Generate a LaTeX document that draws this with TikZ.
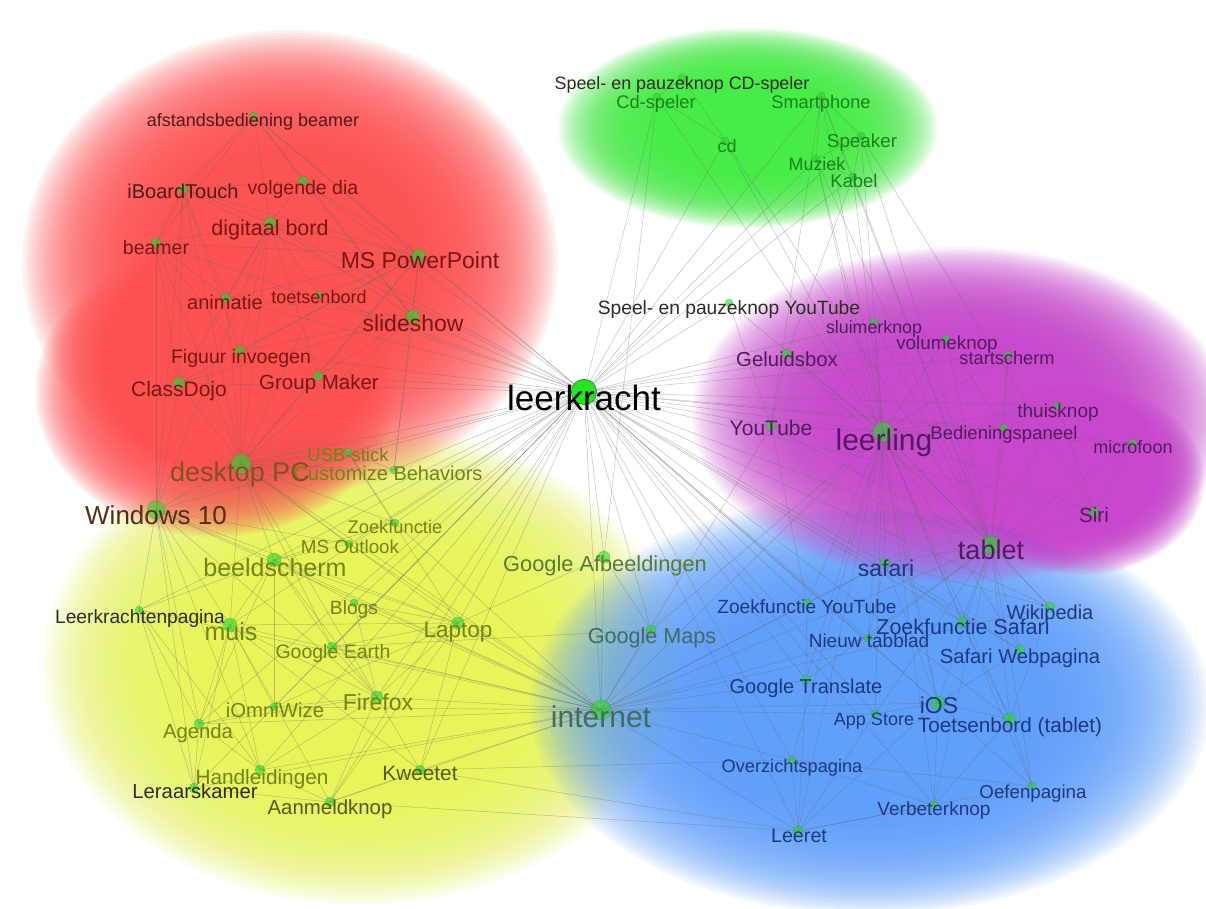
\documentclass[tikz,border=0pt]{standalone}
\usepackage{fontspec}
\setmainfont{Liberation Sans}
\pgfdeclarelayer{bg}
\pgfdeclarelayer{edges}
\pgfsetlayers{bg,edges,main}
\definecolor{bgred}{RGB}{252,82,82}
\definecolor{bgyel}{RGB}{232,245,88}
\definecolor{bggrn}{RGB}{70,236,70}
\definecolor{bgpur}{RGB}{200,72,205}
\definecolor{bgblu}{RGB}{95,160,250}
\definecolor{tred}{RGB}{125,20,20}
\definecolor{tdred}{RGB}{80,25,25}
\definecolor{tgrn}{RGB}{25,130,25}
\definecolor{tpur}{RGB}{85,25,100}
\definecolor{tblu}{RGB}{30,55,130}
\definecolor{tyel}{RGB}{115,132,22}
\definecolor{tdyel}{RGB}{85,90,25}
\definecolor{tdark}{RGB}{45,45,35}
\definecolor{tbrown}{RGB}{85,45,20}
\definecolor{tbrown2}{RGB}{135,80,30}
\definecolor{tteal}{RGB}{65,108,100}
\definecolor{tgolive}{RGB}{85,125,50}
\definecolor{dotg}{RGB}{45,215,45}
\tikzset{
  dot/.style={circle, inner sep=0pt, fill=dotg, fill opacity=0.6, draw=dotg!60!black, draw opacity=0.35, line width=0.3pt},
  lab/.style={inner sep=0pt, anchor=base},
  edge/.style={draw=black!60, line width=0.35pt, draw opacity=0.4},
  haze/.style={fill opacity=0.07},
}
% soft blob: colour, cx, cy, rx, ry
\newcommand\blob[5]{%
  \foreach \k in {0,...,41}{%
    \fill[#1, haze] (#2,#3) ellipse [x radius={#4*(1-0.0125*\k)}, y radius={#5*(1-0.0125*\k)}];}}
% name, dotx, doty, radius(px), labx, laby, size(px), colour, text
\newcommand\nd[9]{%
  \node[dot, minimum size={#4*1.5pt}] (#1) at (#2,#3) {};
  \node[lab, text=#8, font=\fontsize{\fpeval{0.75*#7}}{\fpeval{0.9*#7}}\selectfont] (#1-l) at (#5,{#6+0.36*#7}) {#9};}
\begin{document}
\begin{tikzpicture}[x=0.75pt,y=-0.75pt]
\useasboundingbox (0,0) rectangle (1206,908);
\begin{pgfonlayer}{bg}
  \fill[white] (0,0) rectangle (1206,908);
  \blob{bgyel}{360}{665}{318}{240}
  \blob{bgred}{290}{262}{268}{232}
  \blob{bgred}{215}{392}{180}{145}
  \blob{bggrn}{748}{128}{190}{100}
  \blob{bgblu}{870}{705}{340}{210}
  \blob{bgpur}{960}{415}{268}{168}
  \blob{bgpur}{1080}{480}{125}{95}
\end{pgfonlayer}
% green cluster
\nd{spcd}{682}{78}{4}{682}{83}{17.9}{tdark}{Speel- en pauzeknop CD-speler}
\nd{cdspeler}{657}{97}{4}{656}{102}{18.3}{tgrn}{Cd-speler}
\nd{smartphone}{821}{96}{4}{821}{102}{18.2}{tgrn}{Smartphone}
\nd{cd}{725}{141}{4}{727}{146}{18}{tgrn}{cd}
\nd{speaker}{861}{136}{4}{862}{141}{18.8}{tgrn}{Speaker}
\nd{muziek}{816}{159}{4}{817}{164}{17.9}{tgrn}{Muziek}
\nd{kabel}{853}{177}{4}{854}{181}{18.4}{tgrn}{Kabel}
% red cluster
\nd{afst}{254}{116}{4}{253}{120}{18}{tdred}{afstandsbediening beamer}
\nd{iboard}{183}{189}{5}{183}{191}{20}{tdred}{iBoardTouch}
\nd{volg}{303}{181}{5}{303}{187}{19.5}{tred}{volgende dia}
\nd{digbord}{270}{223}{6}{270}{228}{21.5}{tred}{digitaal bord}
\nd{beamer}{156}{243}{5}{156}{247}{19.5}{tred}{beamer}
\nd{msppt}{419}{256}{7}{420}{260}{23}{tred}{MS PowerPoint}
\nd{anim}{226}{298}{5}{225}{302}{20}{tred}{animatie}
\nd{toets}{319}{295}{4}{319}{297}{18}{tred}{toetsenbord}
\nd{slide}{413}{317}{7}{413}{323}{23}{tred}{slideshow}
\nd{figuur}{240}{351}{5}{241}{356}{19.5}{tred}{Figuur invoegen}
\nd{classdojo}{179}{383}{6}{179}{389}{21}{tred}{ClassDojo}
\nd{groupmaker}{318}{376}{5}{319}{382}{20.5}{tred}{Group Maker}
% centre
\node[circle, inner sep=0pt, minimum size=19pt, fill={rgb,255:red,40;green,228;blue,40}, draw={rgb,255:red,20;green,120;blue,20}, line width=0.4pt] (lk) at (584,392) {};
\node[lab, text=black, font=\fontsize{26.25}{30}\selectfont] (lk-l) at (584,{398+0.36*35}) {leerkracht};
% yellow cluster
\nd{usb}{348}{452}{4}{348}{455}{18.5}{tyel}{USB-stick}
\nd{custom}{394}{470}{4}{388}{473}{20}{tyel}{Customize Behaviors}
\nd{desktop}{241}{464}{10}{240}{472}{27}{tbrown2}{desktop PC}
\nd{win}{156}{510}{9}{156}{515}{26}{tbrown}{Windows 10}
\nd{zoekf}{395}{523}{4}{395}{527}{18.3}{tyel}{Zoekfunctie}
\nd{outlook}{349}{544}{4}{350}{547}{18.8}{tyel}{MS Outlook}
\nd{beeld}{274}{560}{7}{275}{567}{25}{tyel}{beeldscherm}
\nd{lkpag}{139}{610}{4}{140}{617}{19.2}{tdark}{Leerkrachtenpagina}
\nd{blogs}{354}{603}{4}{354}{608}{19.2}{tyel}{Blogs}
\nd{muis}{230}{625}{7}{231}{631}{25}{tyel}{muis}
\nd{laptop}{458}{623}{6}{458}{629}{22.5}{tyel}{Laptop}
\nd{gearth}{332}{647}{5}{333}{651}{19.5}{tyel}{Google Earth}
\nd{firefox}{377}{697}{6}{378}{702}{23}{tyel}{Firefox}
\nd{iomni}{274}{707}{4}{275}{710}{20.3}{tyel}{iOmniWize}
\nd{agenda}{199}{724}{5}{198}{731}{20.3}{tyel}{Agenda}
\nd{handl}{260}{770}{5}{262}{777}{20.8}{tyel}{Handleidingen}
\nd{leraar}{194}{788}{5}{195}{791}{20.3}{tdark}{Leraarskamer}
\nd{aanmeld}{330}{802}{5}{330}{807}{20.4}{tdyel}{Aanmeldknop}
\nd{kweetet}{420}{770}{5}{420}{773}{20.8}{tdyel}{Kweetet}
% purple cluster
\nd{spyt}{729}{303}{4}{729}{308}{19.2}{tdark}{Speel- en pauzeknop YouTube}
\nd{sluimer}{874}{322}{4}{874}{327}{17.8}{tpur}{sluimerknop}
\nd{volume}{946}{339}{4}{947}{343}{18.8}{tpur}{volumeknop}
\nd{start}{1008}{355}{4}{1007}{358}{18.2}{tpur}{startscherm}
\nd{geluid}{787}{354}{5}{787}{359}{20.3}{tpur}{Geluidsbox}
\nd{thuis}{1058}{406}{4}{1058}{411}{19}{tpur}{thuisknop}
\nd{youtube}{771}{426}{5}{771}{428}{21}{tpur}{YouTube}
\nd{leerling}{883}{432}{10}{884}{440}{30}{tpur}{leerling}
\nd{bedien}{1004}{428}{4}{1004}{433}{18.5}{tpur}{Bedieningspaneel}
\nd{micro}{1133}{443}{4}{1133}{447}{18}{tpur}{microfoon}
\nd{siri}{1094}{512}{5}{1094}{515}{20.5}{tpur}{Siri}
\nd{tablet}{991}{545}{9}{991}{550}{27}{tpur}{tablet}
% blue cluster
\nd{safari}{885}{563}{5}{886}{568}{23}{tblu}{safari}
\nd{gafb}{604}{557}{6}{605}{564}{21.8}{tgolive}{Google Afbeeldingen}
\nd{zfyt}{807}{603}{4}{807}{607}{19.1}{tblu}{Zoekfunctie YouTube}
\nd{wiki}{1050}{607}{5}{1050}{612}{20}{tblu}{Wikipedia}
\nd{zfsaf}{962}{622}{5}{963}{627}{21.5}{tblu}{Zoekfunctie Safari}
\nd{gmaps}{651}{630}{5}{652}{636}{21.6}{tteal}{Google Maps}
\nd{nieuw}{868}{638}{4}{869}{641}{19}{tblu}{Nieuw tabblad}
\nd{safweb}{1020}{650}{5}{1020}{656}{20.2}{tblu}{Safari Webpagina}
\nd{gtrans}{806}{680}{5}{806}{686}{20}{tblu}{Google Translate}
\nd{internet}{601}{710}{10}{601}{717}{30}{tteal}{internet}
\nd{ios}{938}{703}{7}{939}{705}{23}{tblu}{iOS}
\nd{appstore}{875}{714}{4}{874}{719}{18}{tblu}{App Store}
\nd{toetstab}{1010}{719}{6}{1010}{725}{20.7}{tblu}{Toetsenbord (tablet)}
\nd{overz}{792}{760}{4}{792}{766}{18.2}{tblu}{Overzichtspagina}
\nd{oefen}{1032}{786}{4}{1033}{792}{18.7}{tblu}{Oefenpagina}
\nd{verbeter}{934}{805}{4}{934}{809}{19}{tblu}{Verbeterknop}
\nd{leeret}{798}{831}{5}{799}{835}{19.7}{tblu}{Leeret}
\begin{pgfonlayer}{edges}
\foreach \b in {msppt,slide,digbord,volg,iboard,beamer,groupmaker,classdojo,figuur,anim,toets,afst,desktop,win,usb,custom,beeld,muis,laptop,lkpag,gafb,gmaps,internet,firefox,kweetet,agenda,handl,leraar,aanmeld,cdspeler,cd,smartphone,speaker,muziek,kabel,spyt,geluid,youtube,leerling,sluimer,volume,start,thuis,bedien,micro,tablet,safari,siri,gtrans,ios,zfyt,leeret,overz,zfsaf,wiki,safweb,appstore,toetstab,nieuw,verbeter,oefen,zoekf,outlook,blogs,gearth,iomni}
  \draw[edge] (lk.center) -- (\b.center);
\foreach \b in {tablet,safari,ios,siri,micro,thuis,bedien,volume,sluimer,start,geluid,youtube,spyt,zfsaf,wiki,safweb,toetstab,appstore,nieuw,gtrans,zfyt,verbeter,oefen,leeret,overz,speaker,kabel,muziek,smartphone,internet,gmaps,cd,cdspeler}
  \draw[edge] (leerling.center) -- (\b.center);
\foreach \b in {siri,micro,thuis,start,volume,sluimer,bedien,ios,safari,appstore,toetstab,wiki,safweb,zfsaf,speaker,kabel,smartphone,muziek,verbeter,oefen,nieuw,gtrans,internet,geluid,youtube}
  \draw[edge] (tablet.center) -- (\b.center);
\foreach \b in {gafb,gmaps,gearth,gtrans,firefox,laptop,kweetet,leeret,aanmeld,blogs,safari,wiki,zfyt,youtube,desktop,beeld,agenda,iomni,handl,leraar,lkpag,overz,zoekf,outlook,win,muis,nieuw,appstore,ios}
  \draw[edge] (internet.center) -- (\b.center);
\foreach \b in {win,beeld,muis,usb,msppt,slide,digbord,beamer,toets,laptop,firefox,gearth,classdojo,groupmaker,figuur,outlook,zoekf,custom,anim,iboard}
  \draw[edge] (desktop.center) -- (\b.center);
\foreach \b in {beeld,muis,lkpag,agenda,leraar,handl,outlook,firefox,laptop,beamer,classdojo,iboard,digbord}
  \draw[edge] (win.center) -- (\b.center);
\foreach \b in {slide,anim,figuur,volg,digbord,afst,beamer,iboard,toets,custom,groupmaker,classdojo}
  \draw[edge] (msppt.center) -- (\b.center);
\foreach \b in {iboard,volg,beamer,afst,anim,slide,figuur,toets,classdojo,groupmaker}
  \draw[edge] (digbord.center) -- (\b.center);
\foreach \a/\b in {afst/iboard,afst/volg,afst/beamer,afst/slide,iboard/beamer,iboard/volg,iboard/anim,iboard/classdojo,iboard/figuur,slide/anim,slide/figuur,slide/groupmaker,slide/classdojo,slide/volg,slide/custom,beamer/classdojo,beamer/figuur,beamer/anim,
  beeld/muis,beeld/laptop,beeld/blogs,beeld/gearth,beeld/outlook,beeld/zoekf,beeld/firefox,beeld/iomni,beeld/agenda,beeld/lkpag,
  muis/laptop,muis/agenda,muis/handl,muis/leraar,muis/firefox,muis/iomni,muis/aanmeld,muis/kweetet,muis/lkpag,
  laptop/firefox,laptop/gearth,laptop/blogs,laptop/kweetet,laptop/aanmeld,laptop/iomni,laptop/usb,
  firefox/gearth,firefox/blogs,firefox/iomni,firefox/agenda,firefox/handl,firefox/kweetet,firefox/aanmeld,
  aanmeld/handl,aanmeld/leraar,aanmeld/kweetet,aanmeld/leeret,kweetet/overz,kweetet/leeret,
  agenda/leraar,agenda/handl,agenda/iomni,agenda/lkpag,usb/custom,usb/zoekf,lkpag/leraar,lkpag/handl,
  cdspeler/cd,cdspeler/spcd,spcd/cd,smartphone/speaker,smartphone/muziek,smartphone/kabel,speaker/kabel,speaker/muziek,muziek/kabel,
  cd/tablet,cdspeler/gafb,smartphone/youtube,kabel/geluid,speaker/siri,muziek/ios,
  safari/zfsaf,safari/safweb,safari/nieuw,safari/wiki,safari/ios,safari/zfyt,
  ios/appstore,ios/toetstab,ios/verbeter,ios/leeret,ios/safweb,
  toetstab/oefen,toetstab/verbeter,toetstab/zfsaf,toetstab/wiki,
  leeret/overz,leeret/verbeter,leeret/oefen,leeret/appstore,leeret/gtrans,
  overz/oefen,overz/verbeter,zfyt/youtube,zfyt/gtrans,
  youtube/spyt,youtube/geluid,siri/micro,siri/thuis,bedien/thuis,bedien/volume,bedien/start,
  gafb/gmaps,gafb/laptop,gmaps/gearth}
  \draw[edge] (\a.center) -- (\b.center);
\end{pgfonlayer}
\end{tikzpicture}
\end{document}
